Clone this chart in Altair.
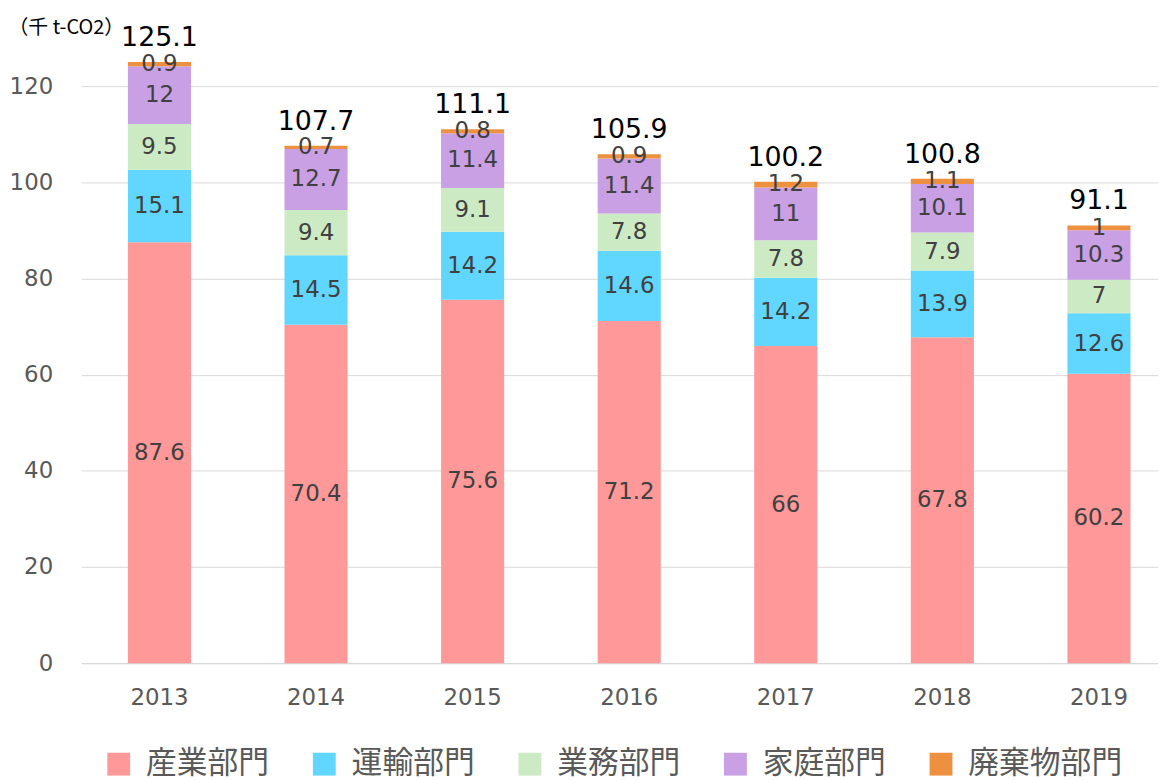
import altair as alt
import pandas as pd

years = ["2013", "2014", "2015", "2016", "2017", "2018", "2019"]
sectors = ["産業部門", "運輸部門", "業務部門", "家庭部門", "廃棄物部門"]
colors = ["#FF9999", "#61D6FF", "#CCEBC5", "#C9A0E3", "#ED9140"]
industry = [87.6, 70.4, 75.6, 71.2, 66, 67.8, 60.2]
transport = [15.1, 14.5, 14.2, 14.6, 14.2, 13.9, 12.6]
business = [9.5, 9.4, 9.1, 7.8, 7.8, 7.9, 7]
household = [12, 12.7, 11.4, 11.4, 11, 10.1, 10.3]
waste = [0.9, 0.7, 0.8, 0.9, 1.2, 1.1, 1]
totals = [125.1, 107.7, 111.1, 105.9, 100.2, 100.8, 91.1]

series = [industry, transport, business, household, waste]
rows = []
for si, (name, vals) in enumerate(zip(sectors, series)):
    for y, v in zip(years, vals):
        rows.append({"year": y, "sector": name, "order": si, "value": v})
df = pd.DataFrame(rows)
tot_df = pd.DataFrame({"year": years, "total": totals})

FONT = "DejaVu Sans"
JFONT = "Noto Sans CJK JP"

xscale = alt.Scale(domain=years, paddingInner=0.597, paddingOuter=0.236, align=0.628)
yscale = alt.Scale(domain=[0, 130], nice=False)

x = alt.X("year:N", scale=xscale, title=None,
          axis=alt.Axis(labelAngle=0, labelFont=FONT, labelFontSize=23, labelColor="#595959",
                        ticks=False, domainColor="#D9D9D9", domainWidth=1.5, labelPadding=24))

base = alt.Chart(df).transform_stack(
    stack="value", groupby=["year"], as_=["y0", "y1"], sort=[alt.SortField("order", "ascending")]
).transform_calculate(mid="(datum.y0 + datum.y1) / 2")

bars = base.mark_bar().encode(
    x=x,
    y=alt.Y("y0:Q", scale=yscale,
            axis=alt.Axis(values=[0, 20, 40, 60, 80, 100, 120], grid=True, gridColor="#D9D9D9",
                          gridWidth=1, domain=False, ticks=False, labelFont=FONT, labelFontSize=23,
                          labelColor="#595959", labelPadding=29,
                          title="（千 t-CO2）", titleAngle=0, titleAlign="left", titleBaseline="middle",
                          titleX=-74, titleY=-11, titleFont=JFONT, titleFontSize=20,
                          titleFontWeight="normal", titleColor="#000000")),
    y2="y1:Q",
    color=alt.Color("sector:N", scale=alt.Scale(domain=sectors, range=colors),
                    legend=alt.Legend(orient="none", direction="horizontal", legendX=22, legendY=715,
                                      title=None, symbolType="square", symbolSize=529,
                                      symbolStrokeWidth=0, labelFont=JFONT, labelFontSize=31,
                                      labelColor="#595959", labelOffset=12, columnPadding=40,
                                      columns=5, labelLimit=300)),
    order=alt.Order("order:Q"),
)

labels = base.mark_text(font=FONT, fontSize=23, color="#404040", baseline="middle").encode(
    x=alt.X("year:N", scale=xscale),
    y=alt.Y("mid:Q", scale=yscale),
    text=alt.Text("value:Q"),
)

tot = alt.Chart(tot_df).mark_text(font=FONT, fontSize=27, color="#000000", baseline="alphabetic", dy=-16).encode(
    x=alt.X("year:N", scale=xscale),
    y=alt.Y("total:Q", scale=yscale),
    text=alt.Text("total:Q", format=".1f"),
)

chart = alt.layer(bars, labels, tot).properties(
    width=1084, height=629,
    autosize=alt.AutoSizeParams(type="none"),
    padding={"left": 74, "top": 28, "right": 0, "bottom": 115},
).configure_view(stroke=None)

chart.save("out.html", embed_options={"renderer": "svg", "actions": False})
